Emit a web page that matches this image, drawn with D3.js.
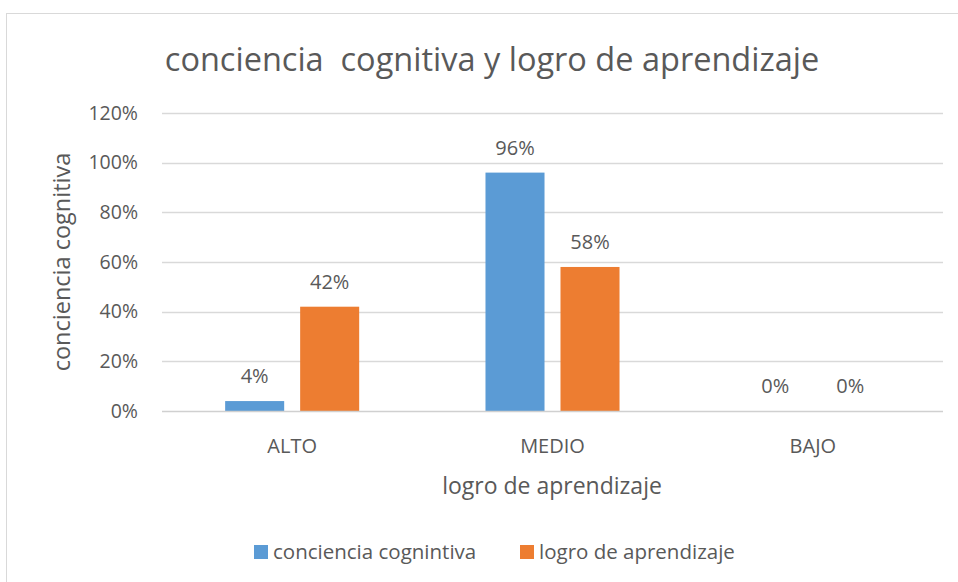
<!DOCTYPE html>
<html><head><meta charset="utf-8">
<script src="https://cdn.jsdelivr.net/npm/d3@7"></script>
<style>body{margin:0;background:#fff}svg{display:block}text{font-family:"Open Sans",sans-serif;fill:#595959;white-space:pre}</style>
</head><body><svg id="c" width="958" height="582"></svg>
<script>
const categories = ["ALTO","MEDIO","BAJO"];
const seriesNames = ["conciencia cognintiva","logro de aprendizaje"];
const conciencia = [0.04, 0.96, 0.00];
const logro = [0.42, 0.58, 0.00];
const yTicks = [0,0.2,0.4,0.6,0.8,1.0,1.2];
const colors = ["#5b9bd5","#ed7d31"];
const title = "conciencia  cognitiva y logro de aprendizaje";
const yTitle = "conciencia cognitiva";
const xTitle = "logro de aprendizaje";

const svg = d3.select("#c");
svg.append("rect").attr("x",6.5).attr("y",13.5).attr("width",980).attr("height",600)
  .attr("fill","#fff").attr("stroke","#d9d9d9");

const m = {l:162,r:943,t:113,b:411};
const x = d3.scaleBand().domain(categories).range([m.l,m.r]);
const y = d3.scaleLinear().domain([0,1.2]).range([m.b,m.t]);
const xs = d3.scaleBand().domain(seriesNames).range([0,x.bandwidth()]).paddingInner(0.213).paddingOuter(0.842);

svg.append("g").selectAll("line").data(yTicks.slice(1)).join("line")
  .attr("x1",m.l).attr("x2",m.r).attr("y1",d=>Math.round(y(d))+0.5).attr("y2",d=>Math.round(y(d))+0.5)
  .attr("stroke","#d9d9d9").attr("stroke-width",1.3);

const yAxis = d3.axisLeft(y).tickValues(yTicks).tickFormat(d3.format(".0%")).tickSize(0).tickPadding(24);
const gy = svg.append("g").attr("transform",`translate(${m.l},0)`).call(yAxis);
gy.select(".domain").remove();
gy.selectAll("text").style("font-size","19.5px").attr("fill","#595959").style("font-family","Open Sans");

const data = categories.map((c,i)=>({cat:c, vals:[conciencia[i],logro[i]]}));
const groups = svg.append("g").selectAll("g").data(data).join("g")
  .attr("transform",d=>`translate(${x(d.cat)},0)`);
groups.selectAll("rect").data(d=>d.vals.map((v,j)=>({v,j}))).join("rect")
  .attr("x",d=>xs(seriesNames[d.j])).attr("width",xs.bandwidth())
  .attr("y",d=>y(d.v)).attr("height",d=>y(0)-y(d.v)).attr("fill",d=>colors[d.j]);
groups.selectAll("text").data(d=>d.vals.map((v,j)=>({v,j}))).join("text")
  .attr("x",d=>xs(seriesNames[d.j])+xs.bandwidth()/2).attr("y",d=>y(d.v)-18)
  .attr("text-anchor","middle").style("font-size","20px").text(d=>d3.format(".0%")(d.v));

svg.append("line").attr("x1",m.l).attr("x2",m.r).attr("y1",m.b+0.5).attr("y2",m.b+0.5)
  .attr("stroke","#d0d0d0").attr("stroke-width",1.5);
const xAxis = d3.axisBottom(x).tickSize(0).tickPadding(28);
const gx = svg.append("g").attr("transform",`translate(0,${m.b})`).call(xAxis);
gx.select(".domain").remove();
gx.selectAll("text").style("font-size","20px").attr("fill","#595959").style("font-family","Open Sans");

svg.append("text").attr("x",492).attr("y",71).attr("text-anchor","middle").style("font-size","32.5px").text(title);
svg.append("text").attr("transform",`translate(70,262) rotate(-90)`).attr("text-anchor","middle").style("font-size","23.5px").text(yTitle);
svg.append("text").attr("x",552).attr("y",494).attr("text-anchor","middle").style("font-size","23px").text(xTitle);

const leg = svg.append("g");
const legX = [254,520];
seriesNames.forEach((n,i)=>{
  leg.append("rect").attr("x",legX[i]).attr("y",545).attr("width",14).attr("height",14).attr("fill",colors[i]);
  leg.append("text").attr("x",legX[i]+19).attr("y",559).style("font-size","20.5px").text(n);
});
</script></body></html>
